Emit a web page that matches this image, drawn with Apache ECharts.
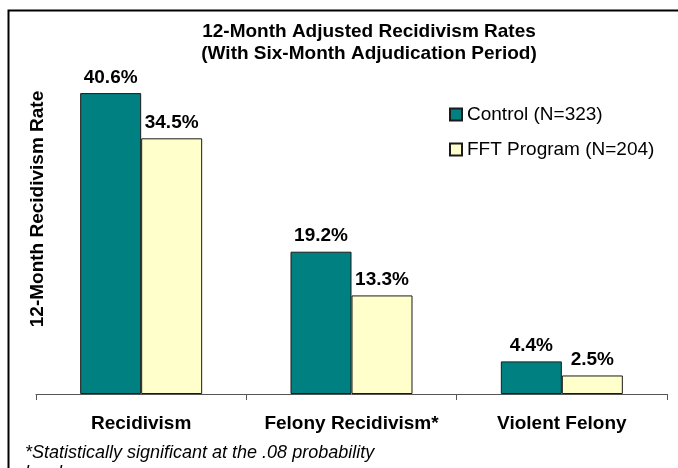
<!DOCTYPE html>
<html>
<head>
<meta charset="utf-8">
<script src="https://cdn.jsdelivr.net/npm/echarts@6/dist/echarts.min.js"></script>
<style>
  html, body { margin: 0; padding: 0; background: #fff; }
  #chart { width: 678px; height: 468px; }
</style>
</head>
<body>
<div id="chart"></div>
<script>
var categories = ['Recidivism', 'Felony Recidivism*', 'Violent Felony']
var controlRates = [40.6, 19.2, 4.4]
var fftRates = [34.5, 13.3, 2.5]
var seriesNames = ['Control (N=323)', 'FFT Program (N=204)']

var font = '"Liberation Sans", Arial, sans-serif'
var myChart = echarts.init(document.getElementById('chart'))

var labelStyle = {
  show: true,
  position: 'top',
  distance: 6,
  formatter: function (p) { return p.value.toFixed(1) + '%' },
  fontFamily: font,
  fontWeight: 'bold',
  fontSize: 19,
  color: '#000'
}

var option = {
  backgroundColor: '#fff',
  animation: false,
  title: {
    text: '12-Month Adjusted Recidivism Rates\n(With Six-Month Adjudication Period)',
    left: 364,
    top: 16,
    textAlign: 'center',
    textStyle: {
      fontFamily: font,
      fontWeight: 'bold',
      fontSize: 19,
      lineHeight: 22,
      color: '#000'
    }
  },
  legend: {
    orient: 'vertical',
    left: 444,
    top: 100,
    itemWidth: 12,
    itemHeight: 12,
    itemGap: 16,
    icon: 'rect',
    data: seriesNames,
    textStyle: {
      fontFamily: font,
      fontSize: 19,
      color: '#000'
    }
  },
  grid: {
    left: 36,
    right: 11,
    top: 60.5,
    bottom: 74
  },
  xAxis: {
    type: 'category',
    data: categories,
    axisLine: { lineStyle: { color: '#555', width: 1 } },
    axisTick: { show: true, length: 6, lineStyle: { color: '#555' } },
    axisLabel: {
      interval: 0,
      hideOverlap: false,
      margin: 20,
      fontFamily: font,
      fontWeight: 'bold',
      fontSize: 19,
      color: '#000'
    }
  },
  yAxis: {
    type: 'value',
    min: 0,
    max: 45,
    show: false,
    splitLine: { show: false }
  },
  series: [
    {
      name: seriesNames[0],
      type: 'bar',
      data: controlRates,
      barGap: '0%',
      barCategoryGap: '42%',
      itemStyle: { color: '#008080', borderColor: '#1a1a1a', borderWidth: 1 },
      label: labelStyle
    },
    {
      name: seriesNames[1],
      type: 'bar',
      data: fftRates,
      itemStyle: { color: '#FFFFCC', borderColor: '#1a1a1a', borderWidth: 1 },
      label: labelStyle
    }
  ],
  graphic: [
    {
      type: 'polyline',
      shape: { points: [[8.5, 480], [8.5, 10.5], [690, 10.5]] },
      style: { stroke: '#000', lineWidth: 2, fill: null }
    },
    {
      type: 'text',
      x: 38,
      y: 209,
      rotation: Math.PI / 2,
      style: {
        text: '12-Month Recidivism Rate',
        fontFamily: font,
        fontWeight: 'bold',
        fontSize: 19,
        fill: '#000',
        align: 'center',
        verticalAlign: 'middle'
      }
    },
    {
      type: 'text',
      left: 25,
      top: 443,
      style: {
        text: '*Statistically significant at the .08 probability\nlevel.',
        fontFamily: font,
        fontStyle: 'italic',
        fontSize: 18,
        lineHeight: 20,
        fill: '#000'
      }
    }
  ]
}
myChart.setOption(option)
</script>
</body>
</html>
